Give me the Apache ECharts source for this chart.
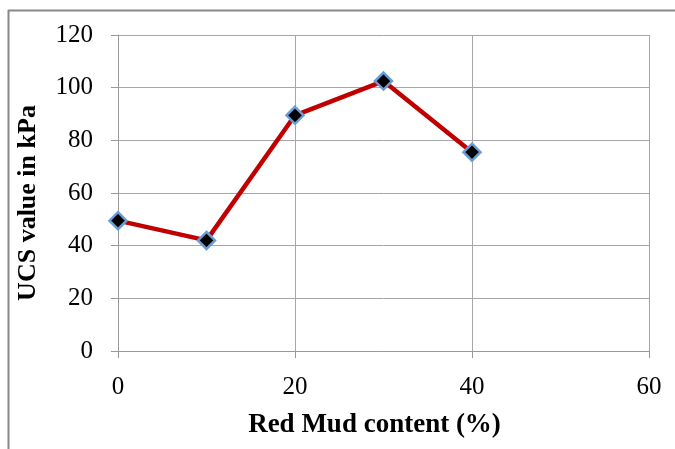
<!DOCTYPE html>
<html><head><meta charset="utf-8">
<script src="https://cdn.jsdelivr.net/npm/echarts@6/dist/echarts.min.js"></script>
<style>html,body{margin:0;padding:0;background:#fff}#c{width:675px;height:449px}</style>
</head><body><div id="c"></div>
<script>
const redMud = [0, 10, 20, 30, 40];
const ucs = [49.5, 42, 89.5, 102.5, 75.5];
const xTitle = 'Red Mud content (%)';
const yTitle = 'UCS value in kPa';

const chart = echarts.init(document.getElementById('c'), null, {renderer:'canvas'});
const font = 'Liberation Serif';
chart.setOption({
  animation:false,
  backgroundColor:'#fff',
  graphic:[
    {type:'line', shape:{x1:8.5,y1:10,x2:8.5,y2:449}, style:{stroke:'#888',lineWidth:2}},
    {type:'line', shape:{x1:8,y1:10.5,x2:675,y2:10.5}, style:{stroke:'#888',lineWidth:2}}
  ],
  grid:{left:118, right:26, top:35, bottom:98, containLabel:false},
  xAxis:{
    type:'value', min:0, max:60, interval:20,
    name:xTitle, nameLocation:'middle', nameGap:61,
    nameTextStyle:{fontFamily:font, fontWeight:'bold', fontSize:27, color:'#000', padding:[0,18,0,0]},
    axisLine:{show:true, lineStyle:{color:'#999', width:1}},
    axisTick:{show:true, length:7, inside:false, lineStyle:{color:'#999'}},
    axisLabel:{fontFamily:font, fontSize:25, color:'#000', margin:24},
    splitLine:{show:true, lineStyle:{color:'#a6a6a6', width:1}}
  },
  yAxis:{
    type:'value', min:0, max:120, interval:20,
    name:yTitle, nameLocation:'middle', nameGap:77,
    nameTextStyle:{fontFamily:font, fontWeight:'bold', fontSize:26, color:'#000', padding:[0,20,0,0]},
    axisLine:{show:true, lineStyle:{color:'#999', width:1}},
    axisTick:{show:true, length:7, lineStyle:{color:'#999'}},
    axisLabel:{fontFamily:font, fontSize:25, color:'#000', margin:25},
    splitLine:{show:true, lineStyle:{color:'#a6a6a6', width:1}}
  },
  series:[{
    type:'line',
    data: redMud.map((x,i)=>[x, ucs[i]]),
    lineStyle:{color:'#c00000', width:4.5},
    symbol:'diamond', symbolSize:17,
    itemStyle:{color:'#000', borderColor:'#6a9bd6', borderWidth:2.5},
    emphasis:{disabled:true}
  }]
});
</script></body></html>
